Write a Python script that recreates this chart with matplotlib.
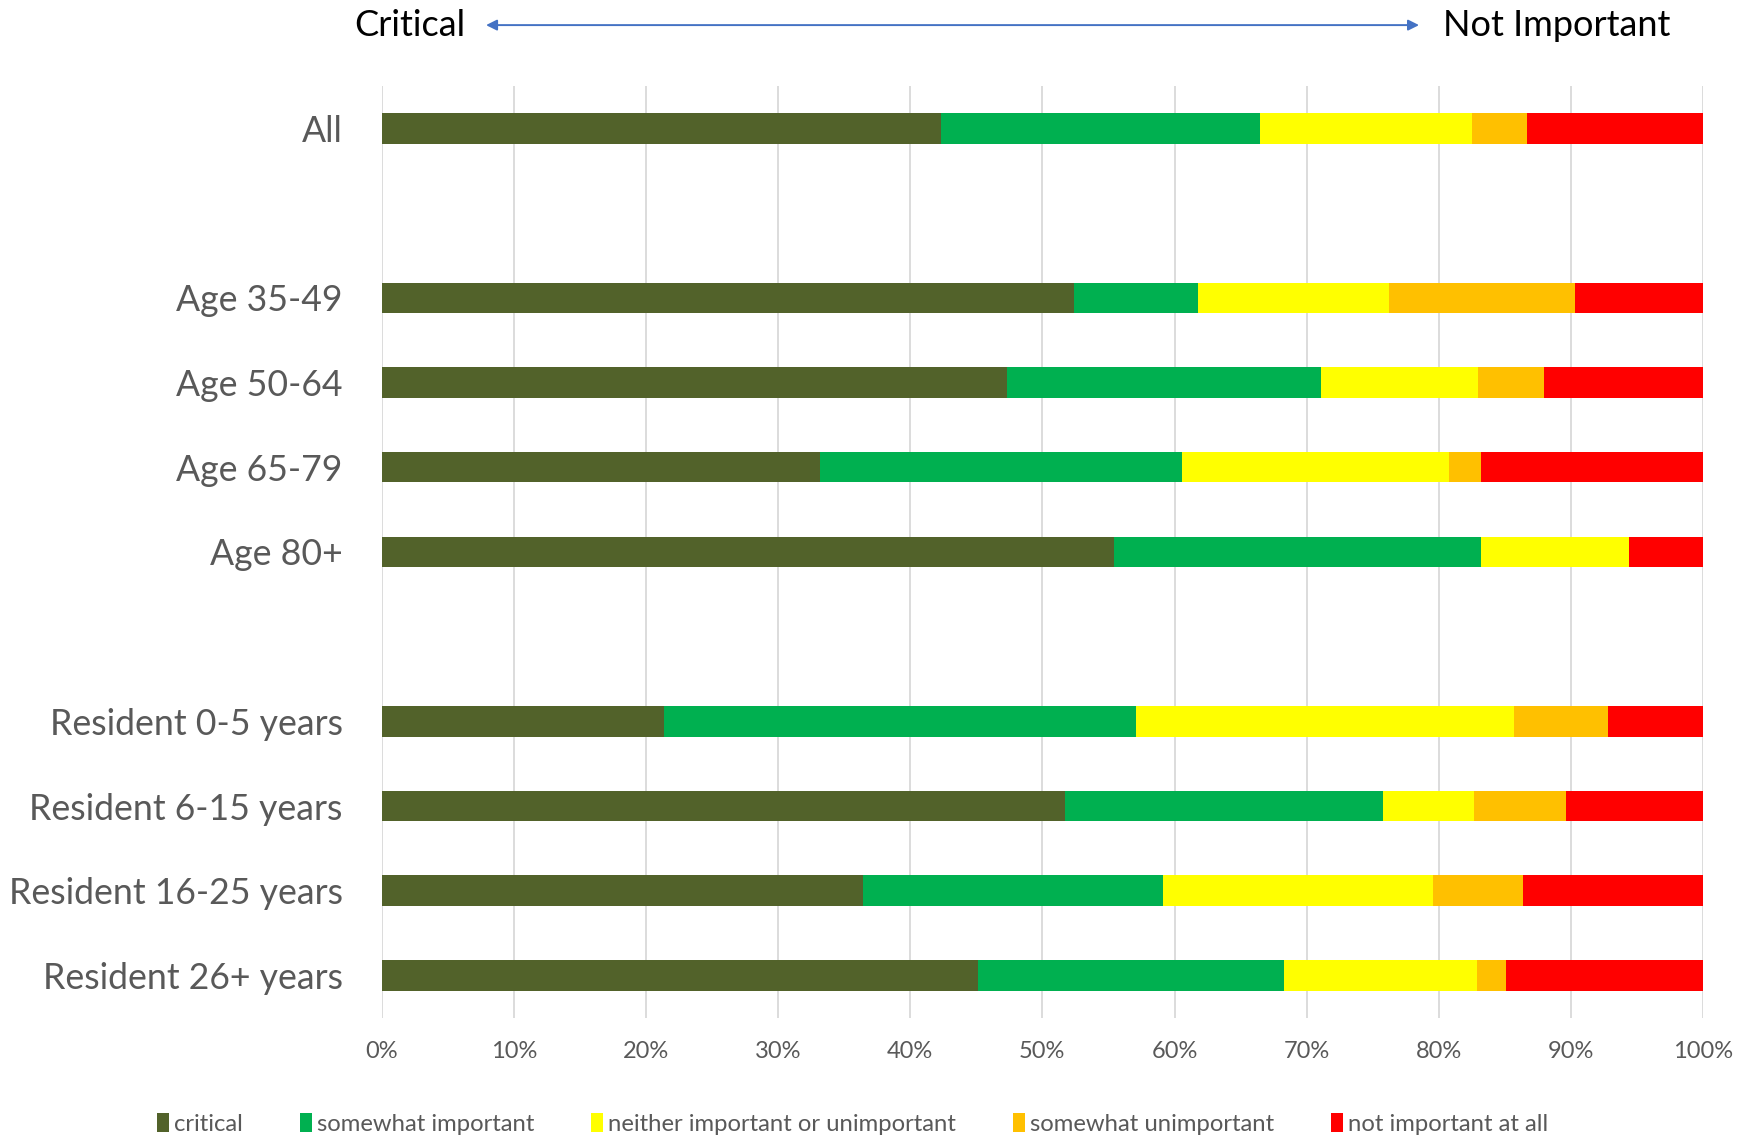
import matplotlib
matplotlib.use('Agg')
import matplotlib.pyplot as plt
import matplotlib.patches as plp
import numpy as np

# groups of rows, a blank slot is left between groups
groups = [
    ['All'],
    ['Age 35-49', 'Age 50-64', 'Age 65-79', 'Age 80+'],
    ['Resident 0-5 years', 'Resident 6-15 years', 'Resident 16-25 years', 'Resident 26+ years'],
]

# percent of answers per row (same order as the rows above)
critical = [42.3, 52.4, 47.3, 33.2, 55.4, 21.4, 51.7, 36.4, 45.1]
somewhat_important = [24.2, 9.4, 23.8, 27.4, 27.8, 35.7, 24.1, 22.7, 23.2]
neither = [16.0, 14.4, 11.9, 20.2, 11.2, 28.6, 6.9, 20.5, 14.6]
somewhat_unimportant = [4.2, 14.1, 5.0, 2.4, 0.0, 7.1, 6.9, 6.8, 2.2]
not_important = [13.3, 9.7, 12.0, 16.8, 5.6, 7.2, 10.4, 13.6, 14.9]

series_names = ['critical', 'somewhat important', 'neither important or unimportant',
                'somewhat unimportant', 'not important at all']
colors = ['#52622A', '#00B050', '#FFFF00', '#FFC000', '#FF0000']
x_ticks = [0, 10, 20, 30, 40, 50, 60, 70, 80, 90, 100]

plt.rcParams['font.family'] = ['Lato', 'DejaVu Sans']

labels = []
ypos = []
slot = 0
for g in groups:
    for name in g:
        labels.append(name)
        ypos.append(slot)
        slot += 1
    slot += 1  # empty slot between groups
n_slots = slot - 1

fig = plt.figure(figsize=(17.51, 11.41), dpi=100)
ax = fig.add_axes([0.218, 0.108, 0.9726 - 0.218, 0.9246 - 0.108])

series = [critical, somewhat_important, neither, somewhat_unimportant, not_important]
left = np.zeros(len(labels))
handles = []
for vals, c, name in zip(series, colors, series_names):
    vals = np.array(vals)
    ax.barh(ypos, vals, left=left, height=0.36, color=c, edgecolor='none', zorder=3)
    left = left + vals
    handles.append(plp.Patch(facecolor=c, edgecolor='none', label=name))

ax.set_xlim(0, 100)
ax.set_ylim(n_slots - 0.5, -0.5)
ax.set_xticks(x_ticks)
ax.set_xticklabels(['%d%%' % t for t in x_ticks], fontsize=17, color='#595959')
ax.set_yticks(ypos)
ax.set_yticklabels(labels, fontsize=25.7, color='#595959')
ax.tick_params(axis='both', length=0)
ax.tick_params(axis='y', pad=28)
ax.tick_params(axis='x', pad=17)
ax.grid(axis='x', color='#D9D9D9', linewidth=1.3, zorder=0)
for s in ax.spines.values():
    s.set_visible(False)

# arrow header
fig.text(0.266, 0.978, 'Critical', ha='right', va='center', fontsize=26, color='black')
fig.text(0.824, 0.978, 'Not Important', ha='left', va='center', fontsize=26, color='black')
fig.add_artist(plp.FancyArrowPatch((0.276, 0.978), (0.812, 0.978), transform=fig.transFigure,
                                   arrowstyle='<|-|>', mutation_scale=16, color='#4472C4', lw=1.4))

fig.legend(handles=handles, loc='center', bbox_to_anchor=(0.487, 0.015), ncol=5, frameon=False,
           fontsize=17.2, labelcolor='#595959', handlelength=0.5, handleheight=0.85,
           handletextpad=0.2, columnspacing=2.4)

fig.savefig('out.png', dpi=100)
